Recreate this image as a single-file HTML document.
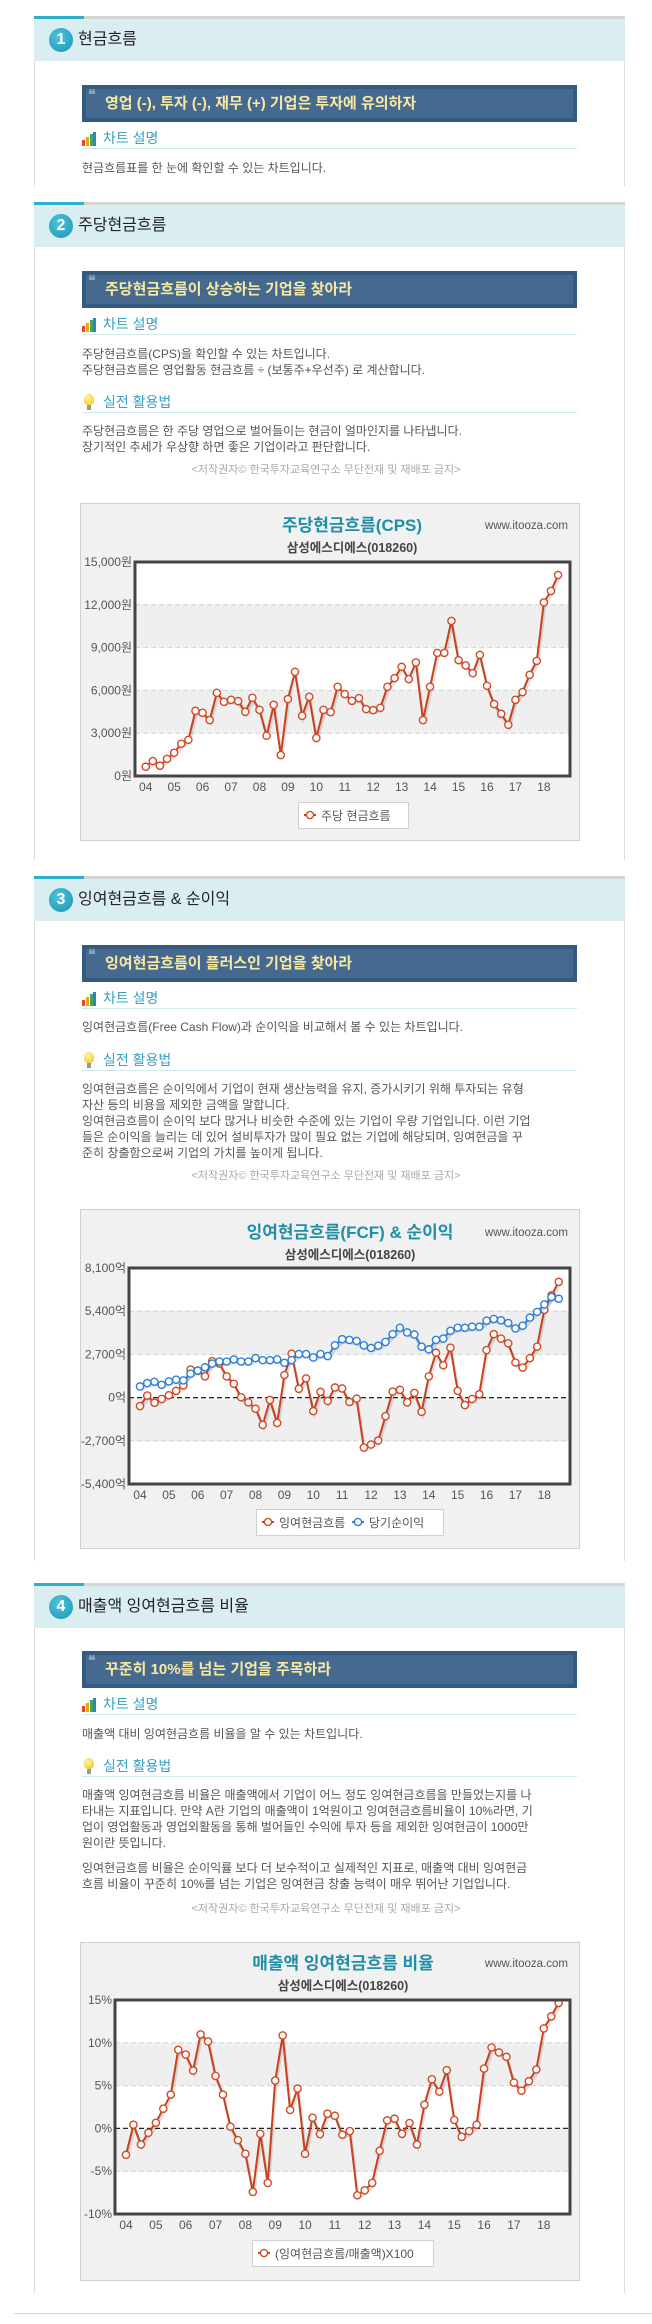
<!DOCTYPE html>
<html><head><meta charset="utf-8">
<style>
*{margin:0;padding:0;box-sizing:border-box}
body{width:652px;height:2324px;position:relative;background:#fff;font-family:"Liberation Sans","Noto Sans CJK KR",sans-serif;color:#555;overflow:hidden}
.abs{position:absolute}
.topbar{position:absolute;left:34px;width:591px;height:3px;background:#d5d5d5}
.topbar i{position:absolute;left:0;top:0;width:50px;height:3px;background:#2eb0cc}
.hdr{position:absolute;left:34px;width:591px;height:42px;background:#daeef2}
.num{position:absolute;left:15px;top:9px;width:24px;height:24px;border-radius:50%;background:radial-gradient(circle at 40% 35%,#4ec3da,#1a95b4);color:#fff;font-weight:bold;font-size:16px;line-height:24px;text-align:center}
.htitle{position:absolute;left:44px;top:11px;font-size:16px;color:#222;white-space:nowrap;line-height:20px}
.secbody{position:absolute;left:34px;width:591px;border-left:1px solid #ddd;border-right:1px solid #ddd}
.quote{position:absolute;left:82px;width:495px;height:37px;background:#46698f;border:4px solid #355a80}
.quote span.q{position:absolute;left:2px;top:-2px;color:#8aa0b8;font-size:14px;font-weight:bold;font-family:"Liberation Serif",serif}
.quote span.t{position:absolute;left:19px;top:5px;color:#f7e9a2;font-size:15px;font-weight:bold;white-space:nowrap;line-height:20px}
.sub{position:absolute;left:82px;width:495px;height:18px;border-bottom:1px solid #cfe9ef}
.sub .t{position:absolute;left:21px;top:-1px;font-size:14px;color:#3a9fc0;white-space:nowrap;line-height:16px}
.bars{position:absolute;left:0;top:1px;width:14px;height:14px}
.bars b{position:absolute;bottom:0;width:3px}
.bulb{position:absolute;left:2px;top:-1px;width:10px;height:11px;border-radius:50% 50% 40% 40%;background:radial-gradient(circle at 40% 35%,#fff6b0,#f2c200)}
.bulb:after{content:"";position:absolute;left:3px;top:11px;width:4px;height:5px;background:#999}
.ln{position:absolute;left:82px;font-size:12px;line-height:16px;color:#555;white-space:nowrap}
.copy{position:absolute;left:0;width:652px;text-align:center;font-size:11px;color:#aaa;line-height:14px}
svg{position:absolute;left:0;top:0}
</style></head><body>

<!-- Section 1 -->
<div class="topbar" style="top:16px"><i></i></div>
<div class="hdr" style="top:19px"><div class="num">1</div><div class="htitle">현금흐름</div></div>
<div class="secbody" style="top:61px;height:125px"></div>
<div class="quote" style="top:85px"><span class="q">❝</span><span class="t">영업 (-), 투자 (-), 재무 (+) 기업은 투자에 유의하자</span></div>
<div class="sub" style="top:131px"><div class="bars"><b style="left:0;height:6px;background:#e24a2a"></b><b style="left:4px;height:9px;background:#f0a020"></b><b style="left:8px;height:12px;background:#3cae4a"></b><b style="left:11px;height:14px;background:#3a7ad0"></b></div><span class="t">차트 설명</span></div>
<div class="ln" style="top:160px">현금흐름표를 한 눈에 확인할 수 있는 차트입니다.</div>

<!-- Section 2 -->
<div class="topbar" style="top:202px"><i></i></div>
<div class="hdr" style="top:205px"><div class="num">2</div><div class="htitle">주당현금흐름</div></div>
<div class="secbody" style="top:247px;height:613px"></div>
<div class="quote" style="top:271px"><span class="q">❝</span><span class="t">주당현금흐름이 상승하는 기업을 찾아라</span></div>
<div class="sub" style="top:317px"><div class="bars"><b style="left:0;height:6px;background:#e24a2a"></b><b style="left:4px;height:9px;background:#f0a020"></b><b style="left:8px;height:12px;background:#3cae4a"></b><b style="left:11px;height:14px;background:#3a7ad0"></b></div><span class="t">차트 설명</span></div>
<div class="ln" style="top:346px">주당현금흐름(CPS)을 확인할 수 있는 차트입니다.</div>
<div class="ln" style="top:362px">주당현금흐름은 영업활동 현금흐름 ÷ (보통주+우선주) 로 계산합니다.</div>
<div class="sub" style="top:395px"><div class="bulb"></div><span class="t">실전 활용법</span></div>
<div class="ln" style="top:423px">주당현금흐름은 한 주당 영업으로 벌어들이는 현금이 얼마인지를 나타냅니다.</div>
<div class="ln" style="top:439px">장기적인 추세가 우상향 하면 좋은 기업이라고 판단합니다.</div>
<div class="copy" style="top:463px">&lt;저작권자© 한국투자교육연구소 무단전재 및 재배포 금지&gt;</div>

<!-- Section 3 -->
<div class="topbar" style="top:876px"><i></i></div>
<div class="hdr" style="top:879px"><div class="num">3</div><div class="htitle">잉여현금흐름 &amp; 순이익</div></div>
<div class="secbody" style="top:921px;height:640px"></div>
<div class="quote" style="top:945px"><span class="q">❝</span><span class="t">잉여현금흐름이 플러스인 기업을 찾아라</span></div>
<div class="sub" style="top:991px"><div class="bars"><b style="left:0;height:6px;background:#e24a2a"></b><b style="left:4px;height:9px;background:#f0a020"></b><b style="left:8px;height:12px;background:#3cae4a"></b><b style="left:11px;height:14px;background:#3a7ad0"></b></div><span class="t">차트 설명</span></div>
<div class="ln" style="top:1019px">잉여현금흐름(Free Cash Flow)과 순이익을 비교해서 볼 수 있는 차트입니다.</div>
<div class="sub" style="top:1053px"><div class="bulb"></div><span class="t">실전 활용법</span></div>
<div class="ln" style="top:1081px">잉여현금흐름은 순이익에서 기업이 현재 생산능력을 유지, 증가시키기 위해 투자되는 유형</div>
<div class="ln" style="top:1097px">자산 등의 비용을 제외한 금액을 말합니다.</div>
<div class="ln" style="top:1113px">잉여현금흐름이 순이익 보다 많거나 비슷한 수준에 있는 기업이 우량 기업입니다. 이런 기업</div>
<div class="ln" style="top:1129px">들은 순이익을 늘리는 데 있어 설비투자가 많이 필요 없는 기업에 해당되며, 잉여현금을 꾸</div>
<div class="ln" style="top:1145px">준히 창출함으로써 기업의 가치를 높이게 됩니다.</div>
<div class="copy" style="top:1169px">&lt;저작권자© 한국투자교육연구소 무단전재 및 재배포 금지&gt;</div>

<!-- Section 4 -->
<div class="topbar" style="top:1583px"><i></i></div>
<div class="hdr" style="top:1586px"><div class="num">4</div><div class="htitle">매출액 잉여현금흐름 비율</div></div>
<div class="secbody" style="top:1627px;height:666px"></div>
<div class="quote" style="top:1651px"><span class="q">❝</span><span class="t">꾸준히 10%를 넘는 기업을 주목하라</span></div>
<div class="sub" style="top:1697px"><div class="bars"><b style="left:0;height:6px;background:#e24a2a"></b><b style="left:4px;height:9px;background:#f0a020"></b><b style="left:8px;height:12px;background:#3cae4a"></b><b style="left:11px;height:14px;background:#3a7ad0"></b></div><span class="t">차트 설명</span></div>
<div class="ln" style="top:1726px">매출액 대비 잉여현금흐름 비율을 알 수 있는 차트입니다.</div>
<div class="sub" style="top:1759px"><div class="bulb"></div><span class="t">실전 활용법</span></div>
<div class="ln" style="top:1787px">매출액 잉여현금흐름 비율은 매출액에서 기업이 어느 정도 잉여현금흐름을 만들었는지를 나</div>
<div class="ln" style="top:1803px">타내는 지표입니다. 만약 A란 기업의 매출액이 1억원이고 잉여현금흐름비율이 10%라면, 기</div>
<div class="ln" style="top:1819px">업이 영업활동과 영업외활동을 통해 벌어들인 수익에 투자 등을 제외한 잉여현금이 1000만</div>
<div class="ln" style="top:1835px">원이란 뜻입니다.</div>
<div class="ln" style="top:1860px">잉여현금흐름 비율은 순이익률 보다 더 보수적이고 실제적인 지표로, 매출액 대비 잉여현금</div>
<div class="ln" style="top:1876px">흐름 비율이 꾸준히 10%를 넘는 기업은 잉여현금 창출 능력이 매우 뛰어난 기업입니다.</div>
<div class="copy" style="top:1902px">&lt;저작권자© 한국투자교육연구소 무단전재 및 재배포 금지&gt;</div>

<div class="abs" style="left:14px;top:2313px;width:638px;height:1px;background:#d5d5d5"></div>

<svg id="charts" width="652" height="2324"></svg>

<script>
// ---- Chart 1 data: 주당현금흐름(CPS)
const yearLabels = ['04','05','06','07','08','09','10','11','12','13','14','15','16','17','18'];
const cpsValues = [650,1050,720,1200,1630,2260,2540,4570,4430,3920,5830,5200,5340,5250,4500,5480,4640,2820,4990,1470,5390,7300,4220,5550,2660,4640,4480,6250,5740,5270,5460,4690,4620,4780,6250,6860,7650,6790,7960,3920,6250,8630,8630,10870,8120,7750,7210,8490,6320,5040,4360,3590,5340,5880,7090,8070,12170,12970,14090];
const cpsTicks = [0,3000,6000,9000,12000,15000];
const cpsTickLabels = ['0원','3,000원','6,000원','9,000원','12,000원','15,000원'];

// ---- Chart 2 data: 잉여현금흐름 & 순이익 (억)
const fcfValues = [-527,127,-316,-84,148,422,759,1751,1688,1329,2278,2130,1329,865,21,-295,-696,-1709,-148,-1582,1413,2742,548,1202,-844,359,-211,633,570,-274,-63,-3122,-2932,-2679,-1160,380,485,-295,295,-886,1329,2805,2025,3122,422,-464,-84,211,2974,3966,3691,3396,2194,1877,2468,3185,5484,6391,7235];
const netIncomeValues = [696,907,991,802,1013,1118,1076,1498,1688,1898,2130,2257,2257,2384,2257,2257,2468,2341,2341,2384,2173,2341,2721,2721,2510,2721,2595,3270,3649,3607,3544,3270,3101,3248,3480,3966,4366,4071,3945,3185,3016,3607,3691,4177,4366,4366,4430,4430,4809,4915,4830,4662,4324,4493,5000,5358,5822,6286,6180];
const fcfTicks = [-5400,-2700,0,2700,5400,8100];
const fcfTickLabels = ['-5,400억','-2,700억','0억','2,700억','5,400억','8,100억'];

// ---- Chart 3 data: 매출액 잉여현금흐름 비율 (%)
const ratioValues = [-3.09,0.43,-1.88,-0.51,0.66,2.30,3.95,9.18,8.63,6.76,10.98,10.16,6.13,3.95,0.20,-1.37,-2.97,-7.42,-0.63,-6.37,5.59,10.86,2.15,4.65,-2.97,1.25,-0.66,1.72,1.48,-0.74,-0.31,-7.81,-7.23,-6.37,-2.62,0.94,1.13,-0.63,0.63,-1.88,2.77,5.74,4.30,6.80,0.98,-0.98,-0.31,0.43,6.99,9.45,8.87,8.36,5.35,4.41,5.51,6.88,11.68,13.09,14.65];
const ratioTicks = [-10,-5,0,5,10,15];
const ratioTickLabels = ['-10%','-5%','0%','5%','10%','15%'];

const NS = 'http://www.w3.org/2000/svg';
const root = document.getElementById('charts');
function mk(tag, attrs, parent){
  const e = document.createElementNS(NS, tag);
  for (const k in attrs) e.setAttribute(k, attrs[k]);
  (parent||root).appendChild(e);
  return e;
}
function txt(s, attrs, parent){ const e = mk('text', attrs, parent); e.textContent = s; return e; }

function drawChart(g, prefix){
  const grp = mk('g', {});
  
  
  const box = mk('rect', {x:g.bx+0.5, y:g.by+0.5, width:g.bw, height:g.bh, fill:'#f1f1f1', stroke:'#cfcfcf'}, grp);
  
  
  const t = txt(g.title, {x:g.tx, y:g.ty, 'text-anchor':'middle', 'font-size':17, 'font-weight':'bold', fill:'#1f8ea6', 'font-family':'Liberation Sans, Noto Sans CJK KR, sans-serif'}, grp);
  
  
  const st = txt('삼성에스디에스(018260)', {x:g.tx, y:g.ty+21, 'text-anchor':'middle', 'font-size':12.5, 'font-weight':'bold', fill:'#444', 'font-family':'Liberation Sans, Noto Sans CJK KR, sans-serif'}, grp);
  
  
  const w = txt('www.itooza.com', {x:g.bx+g.bw-11, y:g.ty-2, 'text-anchor':'end', 'font-size':11.5, fill:'#555', 'font-family':'Liberation Sans, sans-serif'}, grp);
  
  

  const ticks = g.ticks, ymin = ticks[0], ymax = ticks[ticks.length-1];
  const ys = v => g.pb - (v - ymin) / (ymax - ymin) * (g.pb - g.pt);
  const xs = i => g.x0 + i * g.dx;

  mk('rect', {x:g.pl, y:g.pt, width:g.pr-g.pl, height:g.pb-g.pt, fill:'#fff'}, grp);
  g.bands.forEach(b => {
    const r = mk('rect', {x:g.pl, y:ys(ticks[b+1]), width:g.pr-g.pl, height:ys(ticks[b])-ys(ticks[b+1]), fill:'#efefef'}, grp);
    
    
  });
  ticks.forEach((v, k) => {
    if (k > 0 && k < ticks.length-1) {
      const isZero = v === 0 && g.zero;
      const l = mk('line', {x1:g.pl, x2:g.pr, y1:ys(v), y2:ys(v), stroke: isZero ? '#222' : '#cdd6d0', 'stroke-width': isZero ? 1.3 : 1, 'stroke-dasharray': isZero ? '5,3' : '5,3'}, grp);
      
      
    }
    const lb = txt(g.tickLabels[k], {x:g.lx, y:ys(v)+4, 'text-anchor':'end', 'font-size':12, fill:'#555', 'font-family':'Liberation Sans, Noto Sans CJK KR, sans-serif'}, grp);
    
    
  });
  yearLabels.forEach((y, k) => {
    const lb = txt(y, {x:xs(k*4), y:g.pb+15, 'text-anchor':'middle', 'font-size':12, fill:'#555', 'font-family':'Liberation Sans, sans-serif'}, grp);
    
    
  });
  g.series.forEach(s => {
    const pts = s.vals.map((v, i) => xs(i).toFixed(1) + ',' + ys(v).toFixed(1)).join(' ');
    mk('polyline', {points:pts, fill:'none', stroke:'rgba(0,0,0,0.12)', 'stroke-width':3, transform:'translate(1,3)'}, grp);
    const pl = mk('polyline', {points:pts, fill:'none', stroke:s.color, 'stroke-width':2, 'stroke-linejoin':'round'}, grp);
    
    
    s.vals.forEach((v, i) => {
      const c = mk('circle', {cx:xs(i), cy:ys(v), r:3.6, fill:'#fff', stroke:s.mcolor, 'stroke-width':1.4}, grp);
      
      
    });
  });
  const fr = mk('rect', {x:g.pl, y:g.pt, width:g.pr-g.pl, height:g.pb-g.pt, fill:'none', stroke:'#444', 'stroke-width':3}, grp);
  
  
  // legend
  const lg = mk('g', {}, grp);
  
  
  mk('rect', {x:g.lgx+0.5, y:g.lgy+0.5, width:g.lgw, height:26, fill:'#fff', stroke:'#d0d0d0'}, lg);
  let cx = g.lgx + 12;
  g.series.forEach(s => {
    const e = mk('g', {}, lg);
    
    
    mk('line', {x1:cx-6, x2:cx+6, y1:g.lgy+13, y2:g.lgy+13, stroke:s.color, 'stroke-width':2}, e);
    mk('circle', {cx:cx, cy:g.lgy+13, r:3.6, fill:'#fff', stroke:s.mcolor, 'stroke-width':1.4}, e);
    const lt = txt(s.label, {x:cx+11, y:g.lgy+18, 'font-size':12, fill:'#555', 'font-family':'Liberation Sans, Noto Sans CJK KR, sans-serif'}, e);
    cx += s.lw;
  });
}

drawChart({bx:80, by:503, bw:499, bh:337, tx:352, ty:531, title:'주당현금흐름(CPS)',
  pl:135, pr:570, pt:562, pb:776, x0:145.7, dx:7.11, lx:132,
  ticks:cpsTicks, tickLabels:cpsTickLabels, bands:[1,3], zero:false,
  lgx:298, lgy:802, lgw:110,
  series:[{name:'cps', vals:cpsValues, color:'#c9401c', mcolor:'#d24a28', label:'주당 현금흐름', lw:100}]}, 'cps');

drawChart({bx:80, by:1209, bw:499, bh:339, tx:350, ty:1238, title:'잉여현금흐름(FCF) & 순이익',
  pl:129, pr:570, pt:1268, pb:1484, x0:140, dx:7.22, lx:126,
  ticks:fcfTicks, tickLabels:fcfTickLabels, bands:[1,3], zero:true,
  lgx:256, lgy:1509, lgw:187,
  series:[{name:'fcf', vals:fcfValues, color:'#c9401c', mcolor:'#d24a28', label:'잉여현금흐름', lw:90},
          {name:'net-income', vals:netIncomeValues, color:'#2f7fd8', mcolor:'#2f7fd8', label:'당기순이익', lw:90}]}, 'fcf');

drawChart({bx:80, by:1942, bw:499, bh:338, tx:343, ty:1969, title:'매출액 잉여현금흐름 비율',
  pl:115, pr:570, pt:2000, pb:2214, x0:126, dx:7.46, lx:112,
  ticks:ratioTicks, tickLabels:ratioTickLabels, bands:[1,3], zero:true,
  lgx:252, lgy:2240, lgw:181,
  series:[{name:'ratio', vals:ratioValues, color:'#c9401c', mcolor:'#d24a28', label:'(잉여현금흐름/매출액)X100', lw:170}]}, 'ratio');
</script>
</body></html>
